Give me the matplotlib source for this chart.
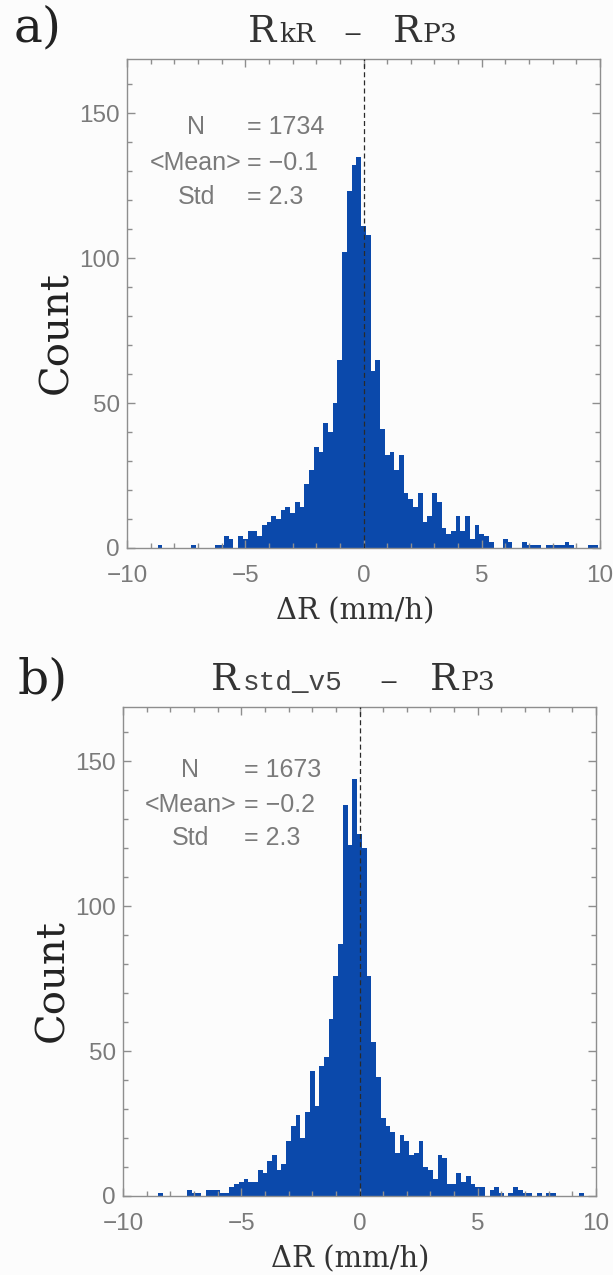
import numpy as np
import matplotlib
matplotlib.use("Agg")
import matplotlib.pyplot as plt
from matplotlib.ticker import MultipleLocator

# ---------------- data ----------------
BIN_WIDTH = 0.2
BIN_CENTERS = np.round(np.arange(-50, 51) * BIN_WIDTH, 1)   # -10.0 ... 10.0

# panel a) R_kR - R_P3  (counts per 0.2 mm/h bin, centred on the values above)
COUNTS_KR = [
    0, 0, 0, 0, 0, 0, 0, 1, 0, 0,          # -10.0 .. -8.2
    0, 0, 0, 0, 1, 0, 0, 0, 0, 1,          # -8.0 .. -6.2
    1, 4, 3, 0, 4, 3, 6, 6, 4, 8,          # -6.0 .. -4.2
    9, 11, 10, 13, 14, 12, 16, 14, 22, 27,  # -4.0 .. -2.2
    35, 33, 43, 40, 50, 65, 102, 123, 132, 135,  # -2.0 .. -0.2
    111, 108, 61, 65, 41, 32, 33, 27, 32, 19,    # 0.0 .. 1.8
    17, 14, 19, 9, 11, 19, 16, 7, 5, 6,    # 2.0 .. 3.8
    11, 6, 11, 3, 8, 5, 4, 2, 0, 0,        # 4.0 .. 5.8
    3, 2, 0, 0, 2, 1, 1, 1, 0, 1,          # 6.0 .. 7.8
    1, 1, 1, 2, 1, 0, 0, 0, 1, 1,          # 8.0 .. 9.8
    0,                                     # 10.0
]

# panel b) R_std_v5 - R_P3
COUNTS_STD = [
    0, 0, 0, 0, 0, 0, 0, 0, 1, 0,          # -10.0 .. -8.2
    0, 0, 0, 0, 2, 1, 1, 0, 2, 2,          # -8.0 .. -6.2
    2, 1, 1, 3, 4, 5, 6, 5, 5, 9,          # -6.0 .. -4.2
    8, 12, 14, 9, 11, 19, 24, 28, 20, 29,  # -4.0 .. -2.2
    43, 31, 45, 48, 61, 76, 87, 135, 121, 144,   # -2.0 .. -0.2
    125, 120, 76, 53, 41, 27, 24, 22, 15, 21,    # 0.0 .. 1.8
    19, 14, 15, 19, 10, 9, 6, 14, 13, 4,   # 2.0 .. 3.8
    4, 8, 5, 7, 4, 3, 3, 0, 2, 3,          # 4.0 .. 5.8
    1, 0, 1, 3, 2, 1, 1, 0, 1, 0,          # 6.0 .. 7.8
    1, 1, 0, 0, 0, 0, 0, 1, 0, 0,          # 8.0 .. 9.8
    0,                                     # 10.0
]

STAT_LABELS = ["N", "<Mean>", "Std"]
STATS_KR = ["1734", "\u22120.1", "2.3"]
STATS_STD = ["1673", "\u22120.2", "2.3"]

X_TICKS = [-10, -5, 0, 5, 10]
X_TICK_LABELS = ["\u221210", "\u22125", "0", "5", "10"]
Y_TICKS = [0, 50, 100, 150]

# ---------------- style ----------------
W, H = 613, 1275
BLUE = "#0b49ab"
GRAY = "#7a7a7a"
FRAME = "#8e8e8e"
BG = "#fcfcfc"
SANS = ["Liberation Sans", "DejaVu Sans"]
SERIF = ["DejaVu Serif"]
MONO = ["Liberation Mono", "DejaVu Sans Mono"]

fig = plt.figure(figsize=(W / 100, H / 100), dpi=100, facecolor=BG)


def fx(px):
    return px / W


def fy(py):
    return 1 - py / H


def make_panel(rect, counts, stats, stat_pos):
    ax = fig.add_axes(rect)
    ax.set_facecolor(BG)
    edges = np.append(BIN_CENTERS - BIN_WIDTH / 2, BIN_CENTERS[-1] + BIN_WIDTH / 2)
    ax.stairs(counts, edges, fill=True, color=BLUE, linewidth=0)
    ax.axvline(0, color="#2a2a2a", lw=0.9, ls=(0, (4, 2.5)), zorder=3)
    ax.set_xlim(-10, 10)
    ax.set_ylim(0, 168.7)
    ax.set_xticks(X_TICKS)
    ax.set_yticks(Y_TICKS)
    ax.set_xticklabels(X_TICK_LABELS)
    ax.xaxis.set_minor_locator(MultipleLocator(1))
    ax.yaxis.set_minor_locator(MultipleLocator(10))
    ax.tick_params(which="both", direction="in", top=True, right=True,
                   color=FRAME, width=1.0)
    ax.tick_params(which="major", length=6)
    ax.tick_params(which="minor", length=3.8)
    ax.tick_params(axis="x", which="major", pad=12, labelsize=17.5, labelcolor=GRAY)
    ax.tick_params(axis="y", which="major", pad=5, labelsize=17.5, labelcolor=GRAY)
    for lab in ax.get_xticklabels() + ax.get_yticklabels():
        lab.set_family(SANS)
    for sp in ax.spines.values():
        sp.set_color(FRAME)
        sp.set_linewidth(1.0)
    lx, ex, ys = stat_pos
    for lab, val, yy in zip(STAT_LABELS, stats, ys):
        ax.text(lx, yy, lab, transform=ax.transAxes, ha="center", va="center",
                fontsize=18, color=GRAY, family=SANS)
        ax.text(ex, yy, "= " + val, transform=ax.transAxes, ha="left",
                va="center", fontsize=18, color=GRAY, family=SANS)
    ax.text(-0.148, 0.44, "Count", transform=ax.transAxes, rotation=90,
            ha="center", va="center", fontsize=29, color="#222222", family=SERIF)
    return ax


# panel a
make_panel([fx(127), fy(548), 473 / W, 489 / H], COUNTS_KR, STATS_KR,
           (0.146, 0.254, (0.861, 0.787, 0.718)))
# panel b
make_panel([fx(123), fy(1196), 473 / W, 489 / H], COUNTS_STD, STATS_STD,
           (0.142, 0.256, (0.871, 0.800, 0.732)))

TITLE_C = "#333333"
# titles (pieces with mixed sizes)
fig.text(fx(248), fy(42), "R", fontsize=27, family=SERIF, color=TITLE_C, va="baseline")
fig.text(fx(279), fy(42), "kR", fontsize=19, family=SERIF, color=TITLE_C, va="baseline")
fig.text(fx(352), fy(33), "\u2013", fontsize=26, family=SERIF, color=TITLE_C, ha="center", va="center")
fig.text(fx(393), fy(42), "R", fontsize=27, family=SERIF, color=TITLE_C, va="baseline")
fig.text(fx(423), fy(42), "P3", fontsize=19, family=SERIF, color=TITLE_C, va="baseline")

fig.text(fx(211), fy(690), "R", fontsize=27, family=SERIF, color=TITLE_C, va="baseline")
fig.text(fx(243), fy(690), "std_v5", fontsize=20, family=MONO, color="#444444", va="baseline")
fig.text(fx(388), fy(681), "\u2013", fontsize=26, family=SERIF, color=TITLE_C, ha="center", va="center")
fig.text(fx(430), fy(690), "R", fontsize=27, family=SERIF, color=TITLE_C, va="baseline")
fig.text(fx(460), fy(690), "P3", fontsize=19, family=SERIF, color=TITLE_C, va="baseline")

# panel letters
fig.text(fx(14), fy(28), "a)", fontsize=35, family=SERIF, color="#222222", va="center")
fig.text(fx(18), fy(680), "b)", fontsize=35, family=SERIF, color="#222222", va="center")

# x labels
fig.text(fx(355), fy(611), "\u0394R (mm/h)", fontsize=21, family=SERIF, color="#333333",
         ha="center", va="center")
fig.text(fx(350), fy(1259), "\u0394R (mm/h)", fontsize=21, family=SERIF, color="#333333",
         ha="center", va="center")

fig.savefig("out.png", dpi=100, facecolor=fig.get_facecolor())
